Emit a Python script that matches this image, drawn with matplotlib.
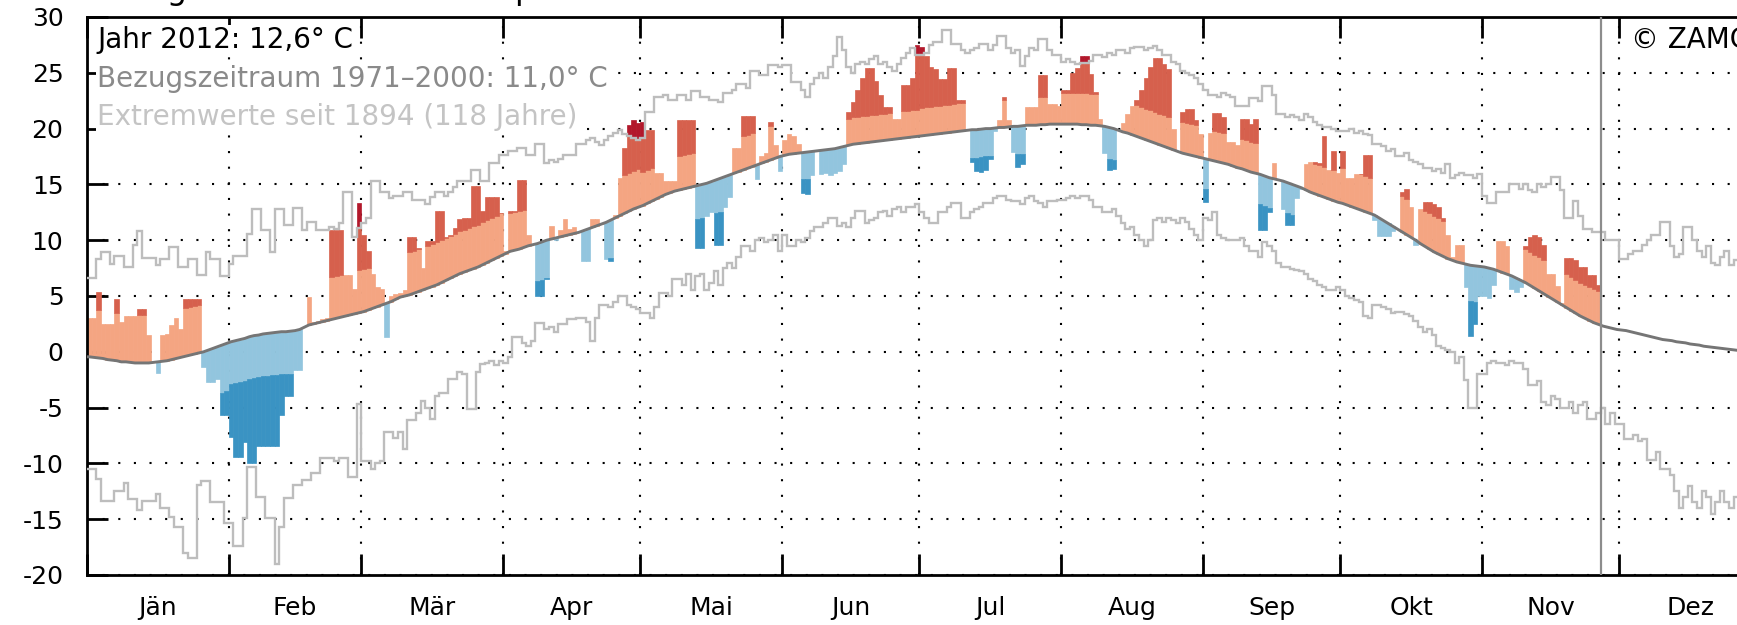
import numpy as np
import matplotlib.pyplot as plt

plt.rcParams['axes.unicode_minus'] = False
plt.rcParams['font.family'] = ['DejaVu Sans']

# Kalender 2012 (Schaltjahr)
monate = ["Jän", "Feb", "Mär", "Apr", "Mai", "Jun", "Jul", "Aug", "Sep", "Okt", "Nov", "Dez"]
tage_pro_monat = [31, 29, 31, 30, 31, 30, 31, 31, 30, 31, 30, 31]

# Klimamittel 1971-2000, Tageswerte [°C]
klima = [
    [-0.45, -0.5, -0.55, -0.6, -0.7, -0.75, -0.8, -0.9, -0.9, -0.95, -1.0, -1.0, -1.0, -1.0, -0.95, -0.9,
     -0.85, -0.8, -0.7, -0.6, -0.5, -0.4, -0.3, -0.2, -0.1, 0.0, 0.15, 0.3, 0.45, 0.6, 0.75],
    [0.9, 1.0, 1.1, 1.2, 1.35, 1.45, 1.5, 1.6, 1.65, 1.7, 1.75, 1.8, 1.8, 1.85, 1.9, 2.0, 2.2, 2.4, 2.5,
     2.6, 2.7, 2.8, 2.9, 3.0, 3.1, 3.2, 3.3, 3.4, 3.5],
    [3.6, 3.75, 3.9, 4.05, 4.2, 4.35, 4.5, 4.7, 4.9, 5.0, 5.1, 5.25, 5.4, 5.55, 5.7, 5.85, 6.0, 6.2, 6.4,
     6.6, 6.8, 7.0, 7.15, 7.3, 7.45, 7.6, 7.8, 8.0, 8.2, 8.4, 8.6],
    [8.8, 9.0, 9.1, 9.2, 9.35, 9.5, 9.6, 9.7, 9.85, 10.0, 10.1, 10.2, 10.3, 10.4, 10.5, 10.6, 10.7, 10.85,
     11.0, 11.15, 11.3, 11.45, 11.6, 11.8, 12.0, 12.2, 12.4, 12.6, 12.8, 12.95],
    [13.1, 13.3, 13.5, 13.7, 13.9, 14.1, 14.25, 14.4, 14.5, 14.6, 14.7, 14.8, 14.9, 15.0, 15.1, 15.25,
     15.4, 15.55, 15.7, 15.85, 16.0, 16.15, 16.3, 16.45, 16.6, 16.75, 16.9, 17.05, 17.2, 17.35, 17.5],
    [17.6, 17.7, 17.75, 17.8, 17.85, 17.9, 17.95, 18.0, 18.05, 18.1, 18.15, 18.2, 18.3, 18.4, 18.5, 18.6,
     18.65, 18.7, 18.75, 18.8, 18.85, 18.9, 18.95, 19.0, 19.05, 19.1, 19.15, 19.2, 19.25, 19.3],
    [19.35, 19.4, 19.45, 19.5, 19.55, 19.6, 19.65, 19.7, 19.75, 19.8, 19.85, 19.9, 19.9, 19.95, 20.0,
     20.0, 20.05, 20.1, 20.1, 20.15, 20.2, 20.2, 20.25, 20.3, 20.3, 20.3, 20.35, 20.35, 20.4, 20.4, 20.4],
    [20.4, 20.4, 20.4, 20.4, 20.35, 20.35, 20.3, 20.3, 20.25, 20.2, 20.1, 20.0, 19.85, 19.7, 19.6, 19.45,
     19.3, 19.15, 19.0, 18.85, 18.7, 18.55, 18.4, 18.25, 18.1, 17.95, 17.8, 17.7, 17.6, 17.5, 17.4],
    [17.3, 17.2, 17.1, 17.0, 16.9, 16.8, 16.65, 16.5, 16.4, 16.25, 16.1, 16.0, 15.9, 15.75, 15.6, 15.5,
     15.4, 15.3, 15.15, 15.0, 14.85, 14.7, 14.5, 14.3, 14.15, 14.0, 13.85, 13.7, 13.55, 13.4],
    [13.3, 13.15, 13.0, 12.85, 12.7, 12.55, 12.4, 12.25, 12.0, 11.75, 11.5, 11.25, 11.0, 10.75, 10.5,
     10.25, 10.0, 9.7, 9.45, 9.2, 8.95, 8.75, 8.55, 8.35, 8.2, 8.05, 7.95, 7.85, 7.75, 7.7, 7.65],
    [7.6, 7.5, 7.4, 7.25, 7.1, 6.95, 6.8, 6.6, 6.4, 6.2, 5.95, 5.7, 5.45, 5.2, 4.95, 4.7, 4.45, 4.2, 3.95,
     3.7, 3.45, 3.2, 3.0, 2.8, 2.6, 2.45, 2.3, 2.2, 2.1, 2.0],
    [1.95, 1.9, 1.8, 1.7, 1.6, 1.5, 1.4, 1.3, 1.2, 1.1, 1.05, 1.0, 0.9, 0.85, 0.8, 0.7, 0.65, 0.6, 0.5,
     0.45, 0.4, 0.35, 0.3, 0.25, 0.2, 0.15, 0.1, 0.1, 0.05, 0.0, 0.0],
]

# Breite des Normalbereichs um das Klimamittel, je Monat [°C]
normalband = [4.3, 3.8, 3.8, 3.4, 3.0, 2.4, 2.5, 2.8, 2.7, 3.2, 3.0, 3.5]

# hoechste Tagesmittel seit 1894
rekord_max = [
    [6.6, 6.6, 8.3, 8.9, 8.9, 7.9, 8.6, 8.6, 7.6, 7.6, 9.6, 10.8, 8.4, 8.4, 8.4, 7.8, 8.3, 8.3, 9.4, 9.4,
     7.6, 7.6, 8.3, 8.3, 6.9, 6.9, 8.9, 8.3, 8.3, 6.8, 6.8],
    [7.9, 8.6, 8.6, 8.6, 10.6, 12.8, 12.8, 10.9, 10.9, 8.9, 12.8, 12.8, 11.4, 11.4, 12.9, 12.9, 10.9, 11.6,
     11.6, 10.9, 10.9, 10.9, 11.2, 11.0, 11.5, 14.3, 14.3, 10.3, 11.1],
    [11.5, 12.0, 15.3, 15.3, 14.3, 14.3, 13.8, 14.0, 14.0, 14.3, 14.3, 13.6, 13.6, 13.6, 13.2, 13.9, 14.3,
     14.3, 14.0, 14.3, 14.8, 15.3, 15.3, 15.3, 16.3, 16.3, 15.3, 15.3, 16.9, 16.9, 17.6],
    [17.6, 18.0, 18.0, 18.3, 18.3, 17.6, 17.6, 18.6, 18.6, 16.9, 17.2, 17.0, 17.3, 17.6, 17.6, 17.6, 18.6,
     18.6, 19.0, 19.2, 18.8, 18.5, 19.0, 19.3, 19.6, 19.9, 19.5, 19.3, 19.2, 19.0],
    [19.2, 21.5, 21.5, 22.8, 22.8, 23.0, 22.6, 22.6, 23.0, 23.0, 22.6, 23.4, 23.4, 22.8, 22.8, 22.6, 22.6,
     22.4, 23.2, 23.2, 23.5, 24.0, 24.0, 23.6, 25.2, 25.2, 24.8, 24.8, 25.7, 25.7, 25.5],
    [25.7, 25.7, 24.2, 24.2, 23.5, 22.8, 24.0, 24.5, 25.0, 24.5, 25.5, 26.5, 28.2, 27.0, 25.5, 25.0, 25.8,
     26.0, 25.8, 26.2, 26.5, 25.8, 26.0, 25.5, 25.2, 25.8, 26.3, 26.8, 27.2, 26.6],
    [26.6, 26.8, 27.5, 27.8, 27.8, 28.8, 28.8, 27.6, 27.6, 27.0, 26.8, 27.0, 27.2, 27.6, 27.6, 27.0, 27.5,
     28.3, 28.3, 27.2, 26.8, 27.0, 25.6, 26.5, 27.2, 27.0, 28.0, 28.0, 27.0, 26.6, 26.6],
    [26.0, 26.2, 26.0, 25.8, 25.9, 25.9, 26.1, 26.6, 26.6, 26.4, 26.8, 26.6, 27.0, 27.0, 26.8, 27.2, 27.3,
     27.3, 27.0, 27.2, 27.4, 27.0, 26.6, 26.6, 26.0, 25.8, 25.2, 25.0, 24.8, 24.5, 24.0],
    [23.5, 23.0, 23.0, 22.8, 23.2, 23.0, 22.8, 22.0, 22.0, 22.0, 22.7, 22.7, 22.5, 23.8, 23.8, 23.0, 21.3,
     21.3, 21.0, 21.2, 21.0, 20.8, 21.3, 21.0, 20.6, 20.3, 20.1, 20.1, 20.0, 19.8],
    [19.8, 19.8, 20.0, 19.6, 19.8, 19.5, 19.4, 18.6, 18.6, 18.4, 18.0, 18.2, 17.5, 17.5, 17.8, 17.2, 17.0,
     16.8, 16.5, 16.5, 16.2, 16.4, 16.0, 16.8, 15.6, 15.8, 16.0, 15.8, 15.8, 15.6, 15.9],
    [14.0, 13.3, 13.3, 14.3, 14.3, 14.3, 15.0, 15.0, 14.6, 15.0, 14.5, 14.3, 15.0, 14.8, 15.0, 15.7, 15.7,
     14.5, 12.0, 12.0, 13.5, 12.2, 11.0, 11.0, 10.7, 10.7, 10.7, 10.0, 10.0, 10.0],
    [8.3, 8.3, 8.8, 9.0, 9.0, 9.6, 10.0, 10.5, 10.5, 11.6, 11.6, 9.5, 8.5, 8.8, 11.2, 11.2, 10.0, 9.0, 8.5,
     9.5, 8.0, 7.8, 8.5, 9.0, 7.8, 8.2, 7.5, 7.0, 7.5, 7.8, 7.2],
]

# tiefste Tagesmittel seit 1894
rekord_min = [
    [-10.5, -10.5, -11.4, -13.4, -13.4, -13.4, -12.5, -12.5, -11.8, -13.2, -13.2, -14.2, -13.4, -13.4,
     -13.4, -12.7, -14.0, -14.0, -14.8, -15.7, -15.7, -18.0, -18.5, -18.5, -11.9, -11.6, -11.6, -13.5,
     -13.5, -13.5, -15.3],
    [-15.3, -17.4, -17.4, -14.9, -10.3, -10.3, -13.0, -13.0, -14.9, -14.9, -19.0, -15.7, -13.1, -13.1,
     -11.9, -11.9, -11.5, -11.5, -10.9, -10.9, -9.5, -9.5, -9.5, -9.8, -9.5, -9.5, -11.2, -11.2, -4.7],
    [-9.8, -9.8, -10.5, -10.0, -9.8, -7.2, -7.2, -7.7, -7.2, -8.7, -6.1, -6.1, -5.5, -4.4, -5.0, -6.0, -4.0,
     -3.7, -3.7, -2.4, -2.4, -1.8, -2.0, -5.1, -5.1, -1.8, -1.1, -1.0, -0.8, -1.2, -0.8],
    [-1.0, -0.5, 1.3, 1.3, 0.8, 0.5, 1.0, 2.6, 2.6, 2.0, 2.2, 1.8, 2.5, 2.5, 2.9, 2.9, 3.0, 3.0, 2.7, 1.0,
     3.0, 4.2, 4.2, 4.0, 4.5, 5.0, 5.0, 4.2, 4.0, 3.8],
    [3.5, 3.5, 3.0, 4.0, 5.3, 5.3, 5.0, 6.5, 6.5, 6.0, 7.0, 5.5, 6.8, 7.0, 5.5, 6.2, 7.2, 6.0, 7.5, 8.0, 7.5,
     8.5, 9.5, 9.5, 9.0, 10.0, 10.2, 9.8, 10.0, 10.5, 9.0],
    [10.5, 9.5, 9.5, 10.0, 9.8, 10.2, 10.8, 11.2, 11.2, 11.5, 12.0, 12.0, 11.3, 11.5, 11.2, 12.0, 12.6,
     12.6, 11.5, 11.8, 12.0, 12.5, 12.6, 12.2, 12.8, 13.0, 12.5, 13.0, 13.0, 13.2],
    [12.5, 12.0, 11.5, 11.5, 12.5, 12.5, 13.0, 13.3, 13.3, 12.0, 12.0, 12.5, 12.8, 13.0, 13.3, 13.3, 13.8,
     14.0, 14.0, 13.6, 13.5, 13.5, 13.2, 13.8, 14.0, 13.5, 13.3, 13.0, 13.5, 13.5, 13.6],
    [13.6, 13.8, 14.0, 13.8, 14.0, 14.0, 13.6, 13.0, 13.0, 12.5, 12.5, 12.8, 12.2, 11.5, 11.0, 11.2, 10.5,
     10.0, 9.5, 10.0, 11.8, 12.0, 11.6, 12.0, 11.8, 11.5, 12.0, 11.6, 11.0, 10.5, 10.0],
    [12.0, 11.8, 12.5, 10.5, 10.2, 10.0, 10.0, 10.0, 10.2, 9.5, 9.0, 9.0, 8.5, 9.8, 9.5, 9.0, 8.0, 7.6, 7.6,
     7.4, 7.3, 7.2, 7.0, 6.5, 6.3, 6.0, 5.8, 5.5, 5.5, 5.8],
    [5.5, 5.0, 4.8, 4.6, 4.5, 3.2, 3.0, 4.2, 4.2, 4.0, 3.8, 3.5, 3.6, 3.6, 3.4, 3.2, 2.8, 2.2, 1.8, 2.0, 1.5,
     0.5, 0.3, 0.2, 0.0, -1.0, -0.5, -2.5, -5.0, -5.0, -2.0],
    [-2.0, -1.0, -0.8, -1.0, -1.0, -1.2, -0.8, -1.0, -1.0, -1.5, -3.0, -3.0, -2.6, -4.5, -4.8, -4.0, -4.2,
     -5.0, -5.0, -4.5, -5.5, -4.8, -4.5, -6.0, -6.0, -5.5, -5.0, -6.5, -5.5, -6.5],
    [-6.5, -7.8, -7.8, -7.5, -8.0, -7.8, -9.7, -9.7, -9.0, -10.5, -10.5, -11.0, -12.5, -14.0, -13.0, -12.0,
     -13.5, -14.0, -12.5, -13.0, -14.5, -13.5, -12.5, -13.5, -14.0, -13.0, -13.5, -14.5, -14.0, -13.0,
     -14.0],
]

# Tagesmittel 2012 (bis 26. November)
temp_2012 = [
    [3.0, 3.0, 5.4, 2.5, 2.5, 2.5, 4.7, 2.7, 3.2, 3.2, 3.2, 3.8, 3.8, 1.5, -0.9, -1.9, 1.5, 1.6, 2.4, 3.0,
     2.0, 4.7, 4.7, 4.7, 4.7, -1.4, -2.7, -2.7, -2.4, -5.7, -5.7],
    [-7.6, -9.4, -9.4, -8.1, -10.0, -10.0, -8.4, -8.4, -8.4, -8.4, -8.4, -5.7, -4.0, -4.0, -1.6, -1.6, 2.2,
     4.9, 2.7, 2.8, 2.9, 3.0, 10.9, 10.9, 10.9, 6.9, 6.9, 5.6, 13.3],
    [10.5, 9.0, 7.0, 5.8, 5.6, 1.3, 5.0, 5.2, 5.3, 5.5, 10.3, 10.3, 9.3, 7.5, 9.9, 9.9, 12.6, 12.6, 10.3,
     10.5, 11.1, 11.9, 12.0, 12.0, 14.9, 14.9, 12.6, 13.9, 13.9, 13.9, 12.4],
    [9.0, 12.6, 12.6, 15.4, 15.4, 10.5, 9.6, 5.0, 5.0, 6.5, 11.3, 10.0, 10.9, 11.9, 11.0, 11.2, 10.7, 8.1,
     8.1, 11.9, 11.9, 11.5, 8.3, 8.1, 12.3, 15.6, 18.3, 20.3, 20.8, 20.5],
    [20.6, 19.9, 19.9, 16.0, 16.0, 15.3, 15.3, 15.3, 20.8, 20.8, 20.8, 20.8, 9.3, 9.3, 12.2, 12.5, 9.6, 9.6,
     13.0, 13.9, 18.3, 18.3, 21.1, 21.1, 21.1, 15.5, 17.5, 17.8, 20.6, 18.5, 16.2],
    [19.0, 19.5, 19.3, 18.6, 14.2, 14.1, 15.8, 18.1, 15.9, 16.0, 15.8, 16.0, 16.2, 16.8, 21.5, 22.4, 23.5,
     24.5, 25.4, 25.4, 24.3, 23.0, 21.9, 21.9, 20.9, 20.9, 23.9, 23.9, 24.5, 27.5],
    [27.3, 26.5, 25.5, 25.3, 24.4, 24.4, 25.4, 25.4, 22.6, 22.6, 20.0, 17.0, 16.2, 16.1, 16.3, 17.3, 19.8,
     20.8, 22.8, 20.8, 17.9, 16.6, 16.8, 21.9, 21.9, 21.9, 24.8, 24.8, 22.2, 22.2, 22.0],
    [23.5, 23.5, 25.0, 25.4, 26.5, 26.5, 24.9, 23.3, 20.9, 17.8, 16.3, 16.4, 19.9, 20.5, 21.3, 22.0, 22.6,
     23.5, 24.5, 25.5, 26.3, 26.3, 25.8, 25.3, 20.0, 18.0, 21.5, 21.8, 21.8, 20.8, 19.5],
    [13.4, 19.6, 21.4, 21.4, 21.0, 18.8, 18.8, 18.5, 20.9, 20.9, 20.4, 20.9, 10.9, 10.9, 12.5, 16.9, 15.4,
     12.8, 11.4, 11.4, 13.8, 14.6, 16.8, 17.0, 17.0, 16.9, 19.3, 16.3, 18.0, 16.0],
    [18.0, 15.6, 15.6, 15.9, 15.9, 17.6, 17.6, 11.8, 10.4, 10.4, 10.4, 10.8, 11.0, 14.3, 14.6, 13.0, 9.6,
     12.8, 13.4, 13.4, 13.2, 13.0, 12.0, 10.5, 8.5, 9.6, 9.6, 5.8, 1.4, 2.5, 5.0],
    [5.0, 4.8, 6.0, 9.9, 9.9, 9.5, 5.6, 5.4, 5.8, 9.5, 10.3, 10.5, 10.3, 9.6, 7.0, 7.0, 5.9, 4.4, 8.4, 8.4,
     8.2, 7.6, 7.6, 6.9, 6.9, 6.0],
]

# Farben
c_warm_hell = '#f4a582'
c_warm = '#d6604d'
c_warm_rekord = '#b2182b'
c_kalt_hell = '#92c5de'
c_kalt = '#3a93c3'
c_kalt_rekord = '#2166ac'

clim = np.concatenate(klima)
upper = np.concatenate(rekord_max)
lower = np.concatenate(rekord_min)
t2012 = np.concatenate(temp_2012)
band = np.concatenate([[b] * n for b, n in zip(normalband, tage_pro_monat)])
edges = np.concatenate([[0], np.cumsum(tage_pro_monat)])
mitte = (edges[:-1] + edges[1:]) / 2

# Balken zerlegen: Normalbereich, ausserhalb, neuer Rekord
segs = {c: ([], [], []) for c in [c_warm_hell, c_warm, c_warm_rekord, c_kalt_hell, c_kalt, c_kalt_rekord]}

def add(col, d, lo, hi):
    if hi > lo:
        segs[col][0].append(d)
        segs[col][1].append(lo)
        segs[col][2].append(hi - lo)

for d, v in enumerate(t2012):
    c, b, U, L = clim[d], band[d], upper[d], lower[d]
    if v >= c:
        add(c_warm_hell, d, c, min(v, c + b))
        add(c_warm, d, c + b, min(v, U))
        add(c_warm_rekord, d, max(U, c), v)
    else:
        add(c_kalt_hell, d, max(v, c - b), c)
        add(c_kalt, d, max(v, L), c - b)
        add(c_kalt_rekord, d, v, min(L, c))

fig = plt.figure(figsize=(17.37, 6.25), dpi=100)
ax = fig.add_axes([87 / 1737, 50 / 625, 1674 / 1737, 558 / 625])

for col, (xs, bots, hs) in segs.items():
    ax.bar(xs, hs, bottom=bots, width=1.0, align='edge', color=col, edgecolor=col,
           linewidth=0.5, zorder=2)

tage = np.arange(367)
ax.stairs(upper, tage, baseline=None, color='#bdbdbd', linewidth=1.7, zorder=3)
ax.stairs(lower, tage, baseline=None, color='#bdbdbd', linewidth=1.7, zorder=3)

xc = np.concatenate([[0], np.arange(366) + 0.5, [366]])
yc = np.concatenate([[clim[0]], clim, [clim[-1]]])
ax.plot(xc, yc, color='#757575', linewidth=2.1, zorder=4)

ax.axvline(len(t2012), color='#8c8c8c', linewidth=1.6, zorder=5)

ax.set_xlim(0, 366)
ax.set_ylim(-20, 30)
ax.set_xticks(edges)
ax.set_xticklabels([])
ax.set_xticks(mitte, minor=True)
ax.set_xticklabels(monate, minor=True)
ax.set_yticks(range(-20, 31, 5))
ax.tick_params(axis='x', which='major', direction='in', length=15, width=2, top=True, bottom=True)
ax.tick_params(axis='x', which='minor', length=0, pad=15, labelsize=18)
ax.tick_params(axis='y', direction='in', length=15, width=2, labelsize=18, pad=17)
for s in ax.spines.values():
    s.set_linewidth(2)

ax.set_axisbelow(True)
ax.grid(True, which='major', color='black', linestyle=(0, (1, 6.5)), linewidth=1.5, zorder=0)

box = dict(facecolor='white', edgecolor='none', pad=1)
ax.text(2.2, 27.9, "Jahr 2012: 12,6° C", fontsize=20, va='center', color='black', bbox=box, zorder=6)
ax.text(2.2, 24.4, "Bezugszeitraum 1971–2000: 11,0° C", fontsize=20, va='center', color='#8a8a8a',
        bbox=box, zorder=6)
ax.text(2.2, 21.0, "Extremwerte seit 1894 (118 Jahre)", fontsize=20, va='center', color='#c4c4c4',
        bbox=box, zorder=6)

# abgeschnittener Titel und Copyright (wie im Original am Bildrand)
fig.text(133 / 1737, 1 + 1 / 625, "Tagesmittel der Lufttemperatur", fontsize=23, va='baseline', ha='left')
fig.text(1631 / 1737, 1 - 40 / 625, "© ZAMG", fontsize=20, va='center', ha='left')

fig.savefig('out.png', dpi=100)
